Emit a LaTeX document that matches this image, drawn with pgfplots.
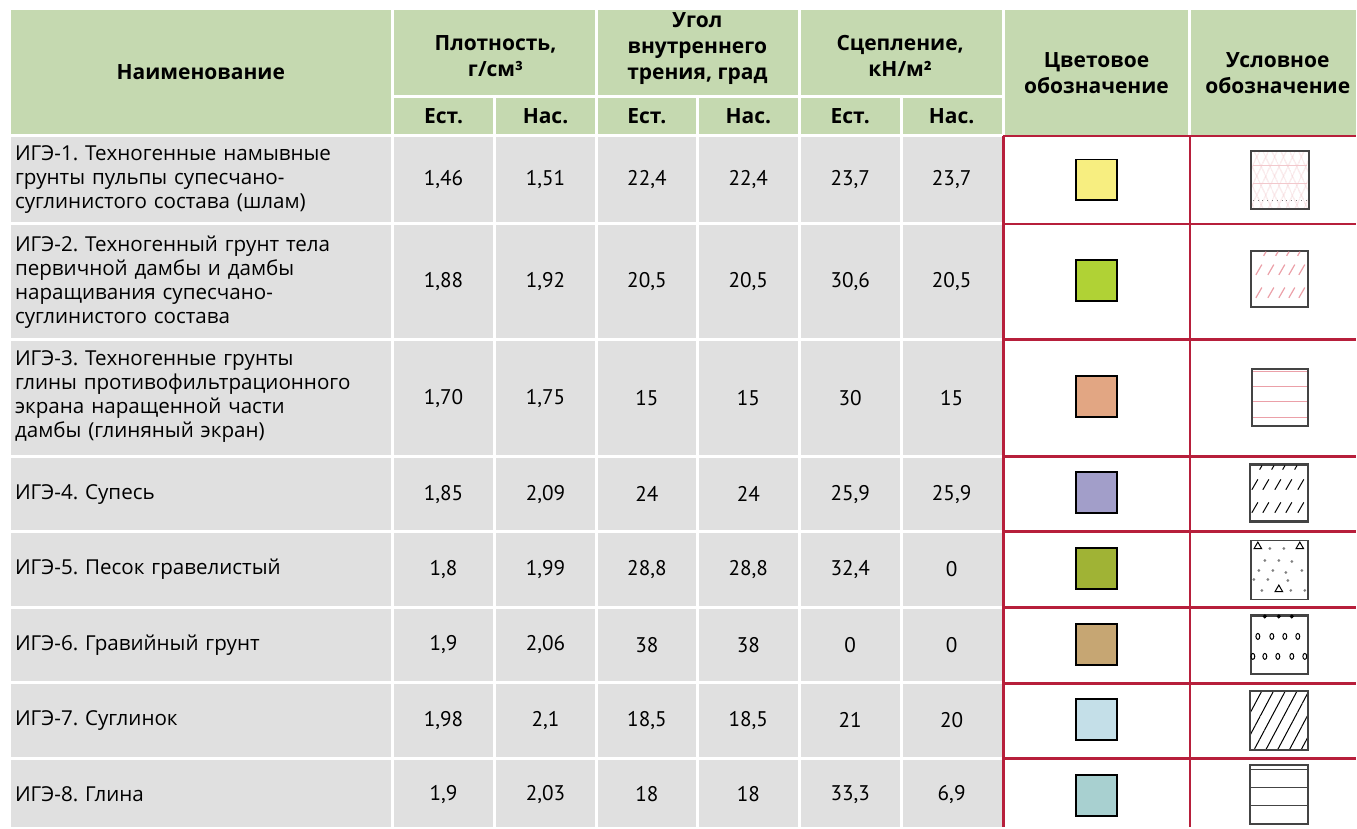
\documentclass[border=0pt]{standalone}
\usepackage{fontspec}
\setmainfont{PT Sans}
\newfontfamily\hdrfont{Open Sans}
\usepackage{pgfplots}
\pgfplotsset{compat=1.18}
\usepackage{pgfplotstable}
\usetikzlibrary{patterns.meta}
\frenchspacing

\definecolor{hdr}{HTML}{C5D9B0}
\definecolor{cellgray}{HTML}{E0E0E0}
\definecolor{redline}{HTML}{B71F3B}
\definecolor{pinkline}{HTML}{EBA0A8}
\definecolor{pinkfaint}{HTML}{F2C8CC}
\definecolor{frm}{HTML}{444444}
\definecolor{cA}{HTML}{F7EE80}
\definecolor{cB}{HTML}{B0D235}
\definecolor{cC}{HTML}{E2A683}
\definecolor{cD}{HTML}{A29EC9}
\definecolor{cE}{HTML}{A0B335}
\definecolor{cF}{HTML}{C6A673}
\definecolor{cG}{HTML}{C4DFE8}
\definecolor{cH}{HTML}{A8D0D0}

\pgfplotstableread{
y est nas
179.5 1,46 1,51
282 1,88 1,92
398.5 1,70 1,75
494.5 1,85 2,09
570 1,8 1,99
645.5 1,9 2,06
721 1,98 2,1
795 1,9 2,03
}\density
\pgfplotstableread{
y est nas
179.5 22,4 22,4
282 20,5 20,5
398.5 15 15
494.5 24 24
570 28,8 28,8
645.5 38 38
721 18,5 18,5
795 18 18
}\angle
\pgfplotstableread{
y est nas
179.5 23,7 23,7
282 30,6 20,5
398.5 30 15
494.5 25,9 25,9
570 32,4 0
645.5 0 0
721 21 20
795 33,3 6,9
}\cohesion

\pgfplotsset{
  valnode/.style={only marks, mark=none, point meta=explicit symbolic,
    nodes near coords, nodes near coords align=center,
    every node near coord/.append style={font=\fontsize{10.6}{12}\selectfont, text=black, inner sep=0pt}},
  swatch/.style={only marks, mark=square*, mark size=10.2pt, mark options={fill=#1, draw=black, line width=0.9pt}},
  frame/.style={draw=frm, line width=1.1pt},
}

\begin{document}
\begin{tikzpicture}
\begin{axis}[
  x=0.5pt, y=0.5pt, y dir=reverse,
  xmin=0, xmax=1357, ymin=0, ymax=828,
  scale only axis, clip=false, axis on top,
  axis line style={draw=none},
  xtick=\empty,
  major tick length=0pt, tick style={draw=none},
  ytick={180,282,396.5,494.5,570,645.5,721,795},
  yticklabels={
    {ИГЭ-1. Техногенные намывные\\грунты пульпы супесчано-\\суглинистого состава (шлам)},
    {ИГЭ-2. Техногенный грунт тела\\первичной дамбы и дамбы\\наращивания супесчано-\\суглинистого состава},
    {ИГЭ-3. Техногенные грунты\\глины противофильтрационного\\экрана наращенной части\\дамбы (глиняный экран)},
    {ИГЭ-4. Супесь},
    {ИГЭ-5. Песок гравелистый},
    {ИГЭ-6. Гравийный грунт},
    {ИГЭ-7. Суглинок},
    {ИГЭ-8. Глина}},
  yticklabel style={anchor=west, align=left, text width=188pt, xshift=4pt,
    font=\hdrfont\fontsize{10.3}{12}\selectfont},
  unbounded coords=jump,
]
% backgrounds
\addplot[fill=hdr, draw=none] coordinates {(11,10) (1357,10) (1357,135) (11,135)} --cycle;
\addplot[fill=cellgray, draw=none] coordinates {(11,135) (1004,135) (1004,828) (11,828)} --cycle;
% white grid lines
\addplot[white, line width=1.5pt] coordinates {
 (393,10) (393,828) (nan,nan)
 (597,10) (597,828) (nan,nan)
 (800,10) (800,828) (nan,nan)
 (495,97) (495,828) (nan,nan)
 (698,97) (698,828) (nan,nan)
 (902,97) (902,828) (nan,nan)
 (1004,10) (1004,135) (nan,nan)
 (1191,10) (1191,135) (nan,nan)
 (393,97) (1004,97) (nan,nan)
 (11,135.5) (1004,135.5) (nan,nan)
 (11,223.5) (1004,223.5) (nan,nan)
 (11,340) (1004,340) (nan,nan)
 (11,457) (1004,457) (nan,nan)
 (11,532) (1004,532) (nan,nan)
 (11,608) (1004,608) (nan,nan)
 (11,683.5) (1004,683.5) (nan,nan)
 (11,759) (1004,759)
};
% red grid lines
\addplot[redline, line width=1.25pt] coordinates {
 (1004.5,136) (1004.5,828) (nan,nan)
 (1191,136) (1191,828) (nan,nan)
 (1004,136) (1357,136) (nan,nan)
 (1004,224) (1357,224) (nan,nan)
 (1004,340) (1357,340) (nan,nan)
 (1004,457) (1357,457) (nan,nan)
 (1004,532) (1357,532) (nan,nan)
 (1004,608) (1357,608) (nan,nan)
 (1004,684) (1357,684) (nan,nan)
 (1004,759) (1357,759)
};
% values
\addplot[valnode] table[x expr=444, y=y, meta=est] {\density};
\addplot[valnode] table[x expr=546, y=y, meta=nas] {\density};
\addplot[valnode] table[x expr=647.5, y=y, meta=est] {\angle};
\addplot[valnode] table[x expr=749, y=y, meta=nas] {\angle};
\addplot[valnode] table[x expr=851, y=y, meta=est] {\cohesion};
\addplot[valnode] table[x expr=952.5, y=y, meta=nas] {\cohesion};
% colour swatches
\addplot[swatch=cA] coordinates {(1097.5,180)};
\addplot[swatch=cB] coordinates {(1097.5,281)};
\addplot[swatch=cC] coordinates {(1097.5,397)};
\addplot[swatch=cD] coordinates {(1097.5,493)};
\addplot[swatch=cE] coordinates {(1097.5,569)};
\addplot[swatch=cF] coordinates {(1097.5,645)};
\addplot[swatch=cG] coordinates {(1097.5,720)};
\addplot[swatch=cH] coordinates {(1097.5,796)};
% symbol 1: faint pink lattice
\addplot[draw=none, pattern={Lines[angle=65,distance=4pt,line width=0.3pt]}, pattern color=pinkfaint] coordinates {(1252,151) (1310,151) (1310,209) (1252,209)} --cycle;
\addplot[draw=none, pattern={Lines[angle=115,distance=4pt,line width=0.3pt]}, pattern color=pinkfaint] coordinates {(1252,151) (1310,151) (1310,209) (1252,209)} --cycle;
\addplot[pinkfaint, line width=0.4pt] coordinates {(1254,166) (1308,166) (nan,nan) (1254,184) (1308,184)};
\addplot[gray, line width=0.4pt, dotted] coordinates {(1254,201) (1308,201)};
\addplot[frame] coordinates {(1252,151) (1310,151) (1310,209) (1252,209)} --cycle;
% symbol 2: pink dashes
\addplot[only marks, mark=|, mark size=3pt, mark options={rotate=-30, draw=pinkline, line width=0.6pt}] coordinates {
 (1260,270) (1272,270) (1283,270) (1293,270) (1303,270)
 (1260,293) (1272,293) (1283,293) (1293,293) (1303,293)};
\addplot[only marks, mark=|, mark size=1.2pt, mark options={rotate=-30, draw=pinkline, line width=0.6pt}] coordinates {
 (1266,254) (1278,254) (1289,254) (1300,254)};
\addplot[frame] coordinates {(1252,251) (1309,251) (1309,307) (1252,307)} --cycle;
% symbol 3: pink horizontal lines
\addplot[pinkline, line width=0.8pt] coordinates {
 (1254,372) (1308,372) (nan,nan) (1254,387) (1308,387) (nan,nan)
 (1254,402) (1308,402) (nan,nan) (1254,418) (1308,418)};
\addplot[frame] coordinates {(1253,369) (1309,369) (1309,426) (1253,426)} --cycle;
% symbol 4: black dashes
\addplot[only marks, mark=|, mark size=3pt, mark options={rotate=-30, draw=black, line width=0.5pt}] coordinates {
 (1256,485) (1267,485) (1279,485) (1290,485) (1302,485)
 (1256,508) (1267,508) (1279,508) (1290,508) (1302,508)};
\addplot[only marks, mark=|, mark size=1.2pt, mark options={rotate=-30, draw=black, line width=0.5pt}] coordinates {
 (1262,468) (1274,468) (1285,468) (1297,468)};
\addplot[frame] coordinates {(1251,465) (1309,465) (1309,522) (1251,522)} --cycle;
% symbol 5: dots and triangles
\addplot[only marks, mark=*, mark size=0.45pt, mark options={gray, draw=gray}] coordinates {
 (1271,549) (1285,549) (1266,561) (1280,561) (1293,562) (1260,571) (1274,571)
 (1287,573) (1303,571) (1255,580) (1269,580) (1289,581) (1263,591) (1292,591) (1306,591)};
\addplot[only marks, mark=triangle, mark size=2.2pt, mark options={draw=black, line width=0.5pt}] coordinates {
 (1259,547) (1301,547) (1280,590)};
\addplot[draw=frm, line width=0.9pt] coordinates {(1252,541) (1309,541) (1309,600) (1252,600)} --cycle;
% symbol 6: ovals
\addplot[only marks, mark=o, mark size=1.5pt, mark options={xscale=0.65, draw=black, line width=0.5pt}] coordinates {
 (1259,637) (1273,637) (1286,637) (1299,637)
 (1254,657) (1266,657) (1279,657) (1293,657) (1306,657)};
\addplot[only marks, mark=*, mark size=0.8pt, mark options={black}] coordinates {
 (1266,617) (1280,617) (1293,617)};
\addplot[frame] coordinates {(1252,616) (1309,616) (1309,675) (1252,675)} --cycle;
% symbol 7: diagonal lines
\addplot[draw=none, pattern={Lines[angle=62,distance=5.2pt,line width=0.5pt]}, pattern color=black] coordinates {(1251,692) (1309,692) (1309,751) (1251,751)} --cycle;
\addplot[frame] coordinates {(1251,692) (1309,692) (1309,751) (1251,751)} --cycle;
% symbol 8: horizontal lines
\addplot[frm, line width=0.6pt] coordinates {
 (1251,770) (1309,770) (nan,nan) (1251,788) (1309,788) (nan,nan) (1251,806) (1309,806)};
\addplot[frame] coordinates {(1251,766) (1309,766) (1309,825) (1251,825)} --cycle;
% header text
\begin{scope}[every node/.style={font=\hdrfont\bfseries\fontsize{10.5}{13}\selectfont, align=center, inner sep=0pt}]
\node at (axis cs:201,72) {Наименование};
\node at (axis cs:496,56) {Плотность,\\г/см³};
\node at (axis cs:698,49) {Угол\\внутреннего\\трения, град};
\node at (axis cs:901,56) {Сцепление,\\кН/м²};
\node at (axis cs:1097.5,73) {Цветовое\\обозначение};
\node at (axis cs:1279,73) {Условное\\обозначение};
\node at (axis cs:444,116) {Ест.};
\node at (axis cs:546,116) {Нас.};
\node at (axis cs:647.5,116) {Ест.};
\node at (axis cs:749,116) {Нас.};
\node at (axis cs:851,116) {Ест.};
\node at (axis cs:952.5,116) {Нас.};
\end{scope}
\end{axis}
\end{tikzpicture}
\end{document}
